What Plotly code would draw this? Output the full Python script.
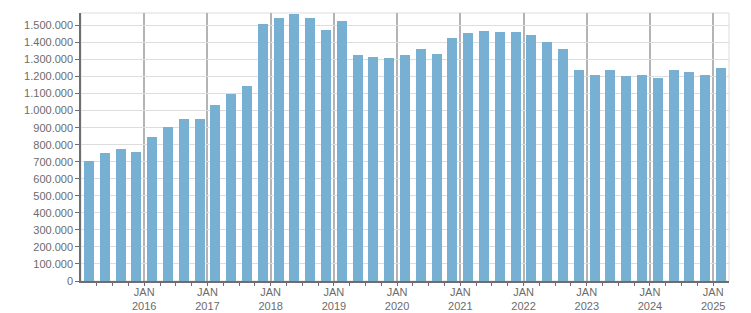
import plotly.graph_objects as go

quarters = [f"{y}-Q{q}" for y in range(2015, 2026) for q in range(1, 5)][:41]
values = [707000, 754000, 777000, 760000, 848000, 906000, 953000, 953000,
          1035000, 1100000, 1147000, 1510000, 1545000, 1569000, 1545000, 1475000,
          1528000, 1328000, 1317000, 1311000, 1328000, 1364000, 1334000, 1428000,
          1457000, 1469000, 1463000, 1463000, 1446000, 1405000, 1364000, 1240000,
          1211000, 1240000, 1205000, 1211000, 1194000, 1240000, 1229000, 1211000,
          1252000]
tick_years = list(range(2016, 2026))
tick_labels = [f"JAN<br>{y}" for y in tick_years]

def qpos(label):
    y, q = label.split("-Q")
    return int(y) + (int(q) - 0.5) / 4

x = [qpos(q) for q in quarters]

fig = go.Figure(go.Bar(
    x=x, y=values, width=0.158,
    marker=dict(color="#77b0d2", line=dict(width=0)),
    customdata=quarters, hovertemplate="%{customdata}: %{y:,d}<extra></extra>",
))

font = dict(family="Liberation Sans, Arial, sans-serif", size=11, color="#6b6b6b")

fig.update_layout(
    width=751, height=313,
    margin=dict(l=81, r=22, t=13, b=32),
    paper_bgcolor="white", plot_bgcolor="white",
    separators=",.",
    showlegend=False,
    font=font,
    bargap=0,
    shapes=[dict(type="rect", xref="paper", yref="paper", x0=0, y0=0, x1=1, y1=1,
                 line=dict(color="#dddddd", width=1), layer="below")],
    xaxis=dict(
        range=[2015, 2025.25], automargin=False,
        tickvals=tick_years, ticktext=tick_labels,
        showgrid=True, gridcolor="#b4b4b4", gridwidth=1.5,
        showline=True, linecolor="#6e6e6e", linewidth=1.5,
        ticks="inside", ticklen=5, tickcolor="#b4b4b4",
        tickfont=font, zeroline=False,
        minor=dict(dtick=0.25, tick0=2015, ticks="outside", ticklen=3,
                   tickcolor="#6e6e6e", showgrid=False),
    ),
    yaxis=dict(
        range=[0, 1573000], automargin=False,
        dtick=100000, tickformat=",d",
        showgrid=True, gridcolor="#dddddd", gridwidth=1,
        showline=True, linecolor="#6e6e6e", linewidth=1.5,
        ticks="outside", ticklen=4, tickcolor="#6e6e6e",
        tickfont=font, zeroline=False,
    ),
)

fig.write_html("out.html")
